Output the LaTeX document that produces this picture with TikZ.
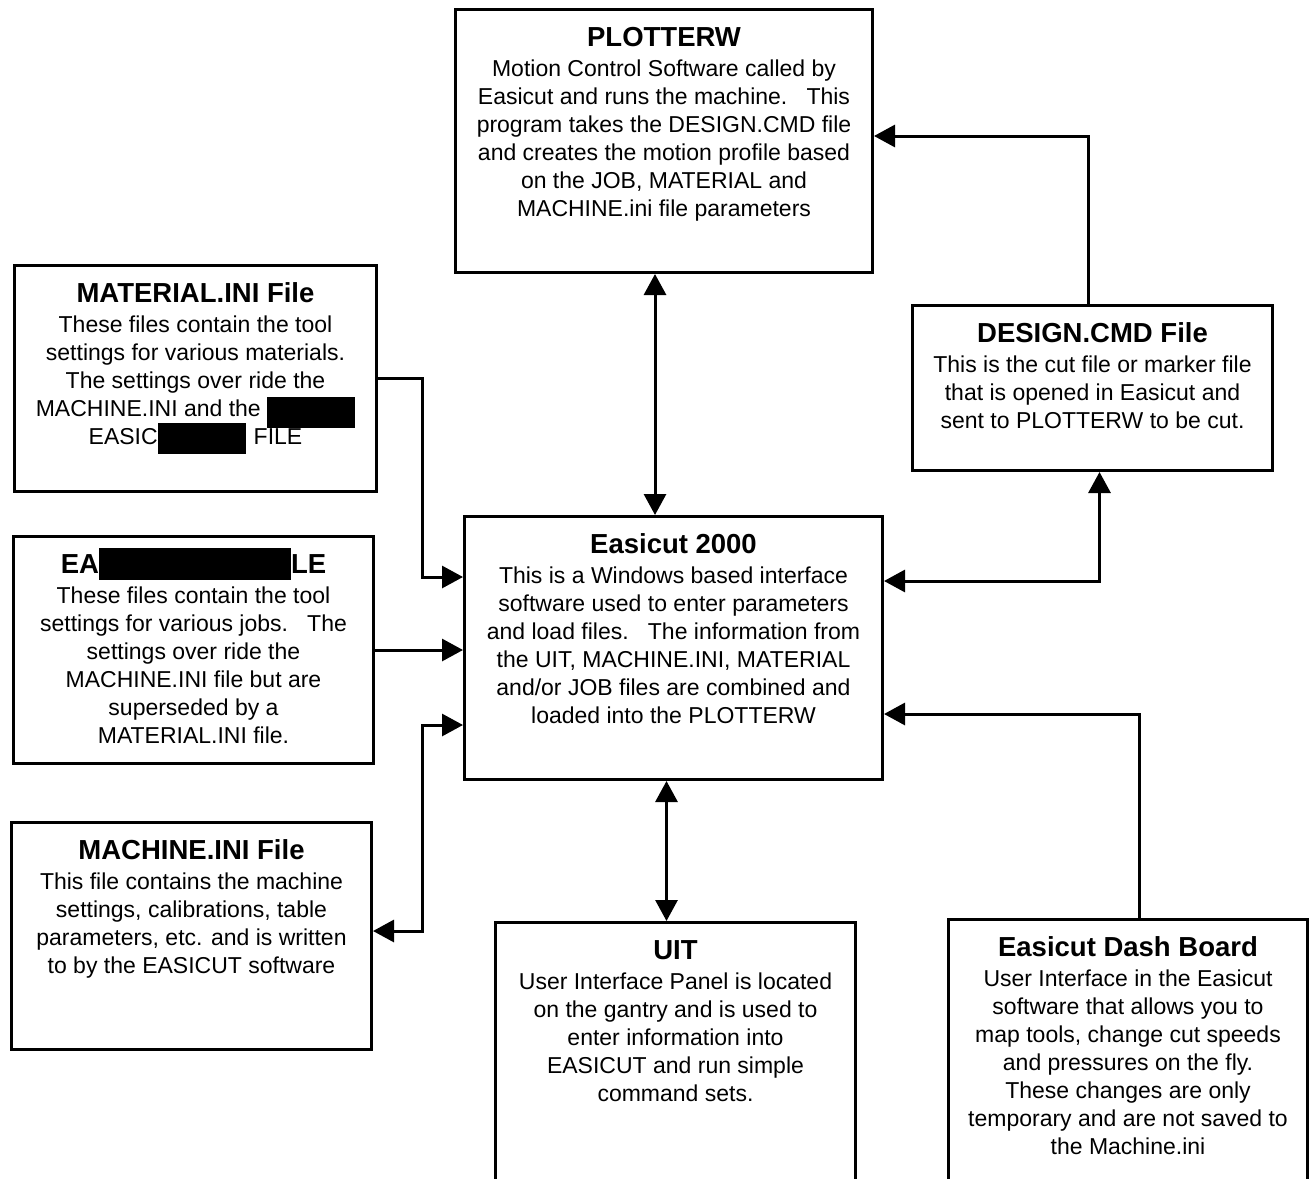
\documentclass[tikz,border=0pt]{standalone}
\usepackage{fontspec}
\setmainfont{Liberation Sans}
\usepackage{tikz}
\usetikzlibrary{arrows.meta}

\newcommand{\boxtitle}{\fontsize{27.5}{30}\selectfont\bfseries}
\newcommand{\boxbody}{\fontsize{23}{28}\selectfont}
\newcommand{\boxtext}[4]{\parbox[t][#2][t]{#1}{\centering
    {\boxtitle\rule{0pt}{36.5pt}#3\par}\vspace{2pt}{\boxbody #4\par}}}
\newcommand{\blackbar}[3]{\smash{\rule[-#1]{#2}{#3}}}

\begin{document}
\begin{tikzpicture}[
        x=1pt, y=-1pt,
        >={Triangle[length=21pt,width=22pt]},
        line width=3pt,
        filebox/.style={draw, inner sep=0pt, anchor=north west}
        ]
        \fill[white] (0,0) rectangle (1309,1178);
        \useasboundingbox (0,0) rectangle (1309,1178);
        \clip (0,0) rectangle (1309,1178);

        \node[filebox] (plotterw) at (454,8) {\boxtext{417pt}{263pt}{PLOTTERW}{%
            Motion Control Software called by\\
            Easicut and runs the machine.~~~This\\
            program takes the DESIGN.CMD file\\
            and creates the motion profile based\\
            on the JOB, MATERIAL and\\
            MACHINE.ini file parameters}};
        \node[filebox] (material) at (13,264) {\boxtext{362pt}{226pt}{MATERIAL.INI File}{%
            These files contain the tool\\
            settings for various materials.\\
            The settings over ride the\\
            MACHINE.INI and the \blackbar{11.7pt}{88pt}{30.7pt}\\
            EASIC\blackbar{10pt}{88pt}{30.7pt}\hspace{8pt}FILE}};
        \node[filebox] (design) at (911,304) {\boxtext{360pt}{165pt}{DESIGN.CMD File}{%
            This is the cut file or marker file\\
            that is opened in Easicut and\\
            sent to PLOTTERW to be cut.}};
        \node[filebox] (easicut) at (463,515) {\boxtext{418pt}{263pt}{Easicut 2000}{%
            This is a Windows based interface\\
            software used to enter parameters\\
            and load files.~~~The information from\\
            the UIT, MACHINE.INI, MATERIAL\\
            and/or JOB files are combined and\\
            loaded into the PLOTTERW}};
        \node[filebox] (jobfile) at (12,535) {\boxtext{360pt}{227pt}{EA\blackbar{7pt}{192pt}{32.3pt}LE}{%
            These files contain the tool\\
            settings for various jobs.~~~The\\
            settings over ride the\\
            MACHINE.INI file but are\\
            superseded by a\\
            MATERIAL.INI file.}};
        \node[filebox] (machine) at (10,821) {\boxtext{360pt}{227pt}{MACHINE.INI File}{%
            This file contains the machine\\
            settings, calibrations, table\\
            parameters, etc. and is written\\
            to by the EASICUT software}};
        \node[filebox] (uit) at (494,921) {\boxtext{360pt}{300pt}{UIT}{%
            User Interface Panel is located\\
            on the gantry and is used to\\
            enter information into\\
            EASICUT and run simple\\
            command sets.}};
        \node[filebox] (dash) at (947,918) {\boxtext{359pt}{300pt}{Easicut Dash Board}{%
            User Interface in the Easicut\\
            software that allows you to\\
            map tools, change cut speeds\\
            and pressures on the fly.\\
            These changes are only\\
            temporary and are not saved to\\
            the Machine.ini}};

        \coordinate (bus) at (422,0);

        \draw[<->] ([xshift=-9pt]plotterw.south) -- ([xshift=-9pt]plotterw.south |- easicut.north);
        \draw[->] ([xshift=-4pt]design.north) |- ([yshift=5pt]plotterw.east);
        \draw[<->] ([yshift=67pt]easicut.east) -| ([xshift=7pt]design.south);
        \draw[->] (material.east) -- (material.east -| bus) |- ([yshift=71pt]easicut.west);
        \draw[->] (jobfile.east) -- (jobfile.east -| easicut.west);
        \draw[<->] ([yshift=5pt]machine.east) -- ([yshift=5pt]machine.east -| bus) |- ([yshift=-77pt]easicut.west);
        \draw[<->] ([xshift=-7pt]easicut.south) -- ([xshift=-7pt]easicut.south |- uit.north);
        \draw[->] ([xshift=11pt]dash.north) |- ([yshift=-66pt]easicut.east);
\end{tikzpicture}
\end{document}
